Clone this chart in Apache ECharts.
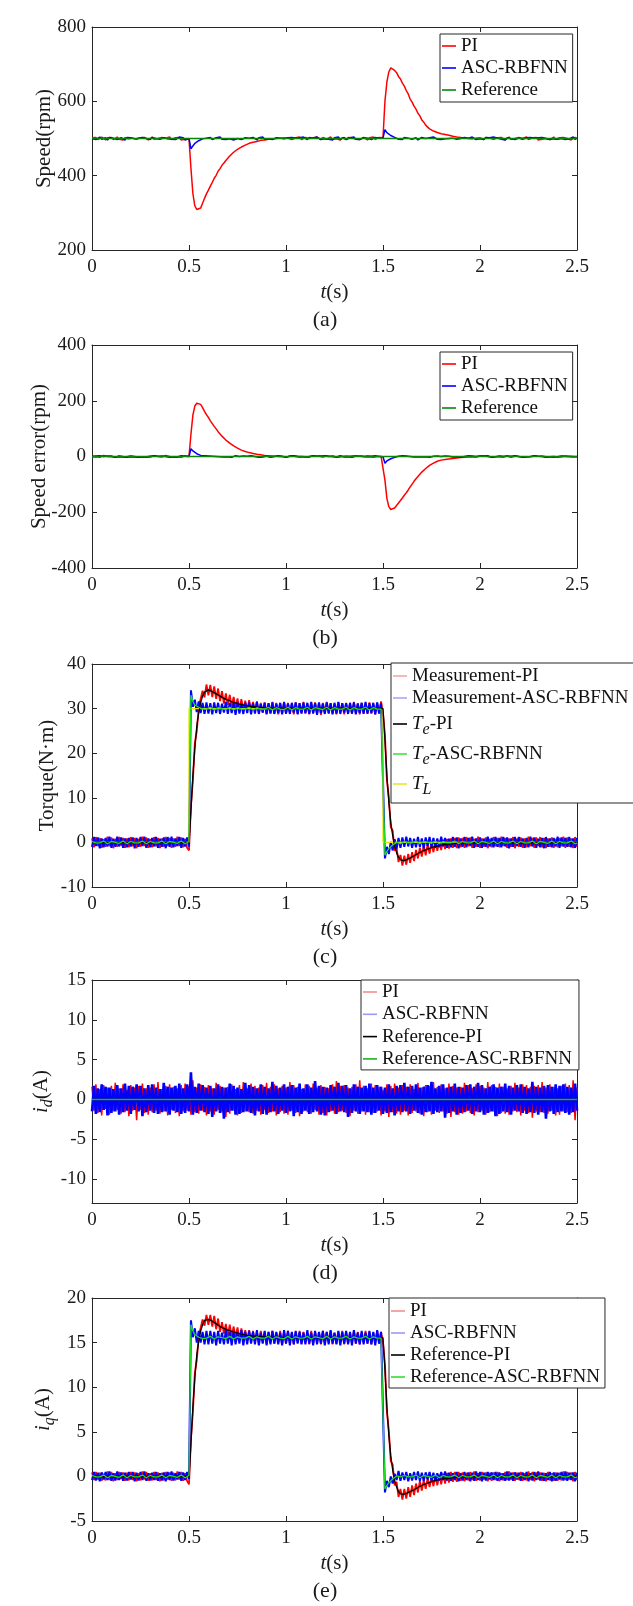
<!DOCTYPE html>
<html><head><meta charset="utf-8">
<script src="https://cdn.jsdelivr.net/npm/echarts@6/dist/echarts.min.js"></script>
<style>html,body{margin:0;padding:0;background:#fff}#c{width:633px;height:1606px}</style>
</head><body><div id="c"></div>
<script>
// ---------- axis ticks / labels ----------
const xTicks = [0, 0.5, 1, 1.5, 2, 2.5];
const captions = ['(a)', '(b)', '(c)', '(d)', '(e)'];
const idTicks = [-10, -5, 0, 5, 10, 15];
const sampleStep = 0.01; // uniform sampling of the measured traces

// ---------- (a) speed, rpm (one row = 0.1 s) ----------
const speedPI = [
502,498,503,497,501,504,499,496,502,500,
503,497,499,504,498,501,496,502,503,499,
497,501,504,498,500,502,497,503,499,496,
501,504,498,502,500,497,503,499,501,498,
504,497,500,502,499,503,496,501,498,502,
499,420,352,319,309,306,313,326,339,351,
361,372,382,393,401,412,419,428,434,441,
446,453,456,463,465,471,473,477,478,482,
483,487,486,490,489,492,492,495,494,496,
495,498,496,499,497,500,498,501,499,502,
498,501,503,497,500,502,499,504,497,501,
503,498,500,496,502,501,504,499,497,503,
500,498,502,504,497,501,499,503,496,502,
501,497,503,499,502,504,498,500,497,501,
503,499,496,502,500,504,498,501,503,499,
502,600,652,679,690,689,683,677,667,660,
649,641,629,620,606,598,587,579,568,561,
550,544,536,532,526,525,520,520,516,516,
513,514,511,512,509,509,506,507,504,505,
503,504,501,503,500,502,499,503,501,498,
502,500,497,503,499,501,504,498,500,502,
497,503,499,496,501,504,498,502,500,497,
503,499,501,498,504,497,500,502,499,503,
496,501,498,502,500,503,497,499,504,498,
501,502,497,503,499,500,502,496,501,503,
500];
const speedASC = [
499,503,497,501,504,498,500,502,496,503,
498,501,504,497,499,502,500,496,503,498,
502,497,499,504,501,496,503,498,500,502,
497,503,499,500,504,498,496,502,501,499,
503,498,501,497,500,504,499,502,496,501,
500,472,480,487,490,494,497,499,496,501,
498,503,497,500,502,499,504,498,501,497,
502,499,503,496,501,500,504,497,499,502,
498,501,497,503,500,496,502,499,504,498,
501,499,503,497,500,502,498,501,504,499,
497,502,500,503,498,501,496,502,499,504,
500,497,503,499,501,498,504,500,497,502,
499,503,498,501,496,502,500,504,498,501,
503,497,500,502,499,504,498,501,497,500,
502,498,501,504,497,500,503,499,501,498,
501,524,516,511,508,505,503,501,498,502,
497,503,499,501,504,498,500,502,496,501,
503,498,500,497,502,499,504,501,498,500,
497,502,499,503,500,496,501,504,498,502,
500,497,503,499,501,498,504,500,497,502,
499,501,497,503,500,502,498,504,499,501,
503,498,500,496,502,501,499,503,497,500,
501,504,498,500,502,497,503,499,501,496,
502,499,503,498,500,504,497,501,499,502,
498,501,500,503,497,502,499,501,504,498,
501];
const speedRefT = [0, 2.5];
const speedRefV = [500, 500];

// ---------- (b) speed error, rpm ----------
const errPI = [
-2,3,-1,2,-3,1,4,-2,0,3,
-1,2,-3,1,3,-2,0,4,-1,2,
3,-2,0,2,-3,1,-1,3,-2,1,
2,-1,3,-3,0,2,-2,1,4,-1,
0,3,-2,1,-1,2,-3,0,3,-2,
1,80,148,181,191,194,187,175,162,150,
140,128,118,108,99,89,81,73,66,59,
53,48,43,38,35,30,27,23,21,18,
17,14,13,11,10,8,7,6,6,4,
5,3,4,2,3,1,2,0,2,-1,
2,-1,1,3,-2,0,2,-3,1,-1,
3,-2,0,2,-1,1,-3,2,0,-2,
1,3,-1,0,2,-2,1,-3,2,0,
-1,2,-3,1,0,3,-2,1,-1,2,
0,-2,3,-1,2,-3,1,0,-2,1,
-1,-85,-150,-180,-190,-191,-185,-176,-167,-158,
-149,-139,-130,-120,-109,-99,-89,-80,-72,-64,
-56,-49,-43,-37,-32,-27,-24,-20,-17,-16,
-13,-13,-11,-10,-9,-8,-7,-6,-5,-4,
-4,-3,-3,-1,-2,0,-1,1,-2,0,
2,-1,3,-2,0,1,-3,2,-1,0,
3,-2,1,-1,2,0,-3,1,2,-2,
0,2,-1,3,-2,1,-1,0,2,-3,
1,-2,2,0,-1,3,-2,1,-3,2,
-1,1,3,-2,0,2,-1,3,-2,1,
0];
const errASC = [
1,-3,2,-1,3,-2,0,-3,2,-1,
2,-2,-3,1,-1,3,-2,0,-3,2,
-1,3,-2,0,-3,2,-1,1,-2,3,
-2,0,3,-3,1,-1,2,-2,0,3,
-3,1,-1,2,-2,0,3,-1,1,-2,
0,28,20,14,10,7,4,2,3,-1,
2,-2,1,-3,0,2,-1,3,-2,0,
-1,2,-3,1,3,-2,0,-1,2,-3,
1,-2,3,-1,0,2,-3,1,-2,0,
2,-1,-3,1,0,-2,3,-1,1,-2,
-3,0,2,-1,3,-2,1,-3,0,2,
-1,2,-2,0,3,-3,1,-1,2,0,
3,-1,0,-3,2,1,-2,0,3,-1,
-2,1,-1,3,-3,0,2,-2,1,-1,
0,-3,2,-1,1,-2,3,-1,0,2,
-1,-24,-16,-11,-8,-5,-3,-2,1,-2,
3,-1,2,-3,0,1,-2,3,-1,0,
-2,2,-1,3,-3,0,1,-2,2,-1,
0,-3,2,-1,1,3,-2,0,-1,2,
-3,1,0,-2,3,-1,2,-3,0,1,
2,-2,1,-1,3,0,-3,1,-1,2,
-1,3,-2,0,2,-3,1,-1,3,-2,
0,1,-3,2,-1,2,0,-2,3,-1,
1,-2,0,3,-3,1,-1,2,0,-2,
-2,3,-1,0,2,-3,1,-2,0,3,
-1];
const errRefT = [0, 2.5];
const errRefV = [0, 0];

// ---------- (c) torque, N·m ----------
const torqueMeasPI = [
0.9,-1.1,1.2,-0.8,1.0,-1.2,0.7,-1.0,1.3,-0.9,
1.1,-1.3,0.8,-1.0,1.2,-0.7,1.0,-1.2,0.9,-1.1,
1.2,-0.9,1.0,-1.3,0.8,-1.0,1.3,-0.8,1.1,-1.2,
0.8,-1.1,1.2,-0.9,1.0,-1.3,0.9,-1.0,1.2,-0.8,
1.0,-1.2,0.9,-1.0,1.3,-0.8,1.1,-1.1,0.8,-1.2,
-1.8,8.2,13.9,22.3,24.9,30.3,30.1,34.0,32.5,35.4,
33.0,35.3,32.6,35.0,32.2,34.5,31.7,33.9,31.1,33.4,
30.8,33.1,30.5,32.6,30.2,32.3,29.9,32.1,29.8,31.8,
29.6,31.9,29.5,31.5,29.2,31.6,29.0,31.3,29.1,31.4,
28.8,31.2,29.0,31.5,28.9,31.3,28.7,31.2,29.0,31.4,
28.8,31.3,29.1,31.0,28.7,31.4,28.9,31.2,29.0,31.5,
28.9,31.1,28.7,31.3,29.0,31.4,28.8,31.2,28.6,31.3,
29.0,31.5,28.8,31.2,28.9,31.0,28.7,31.4,29.1,31.2,
28.7,31.3,29.0,31.1,28.8,31.5,28.9,31.2,28.7,31.3,
29.0,31.2,28.8,31.4,28.9,31.1,28.7,31.3,29.0,31.6,
28.9,24.1,13.9,10.2,3.4,2.6,-1.9,-1.1,-4.4,-2.8,
-5.2,-3.0,-5.0,-2.6,-4.6,-2.2,-4.2,-1.7,-3.6,-1.2,
-3.2,-0.7,-2.9,-0.4,-2.5,-0.1,-2.2,0.2,-1.9,0.4,
-1.7,0.6,-1.5,0.8,-1.4,0.9,-1.2,1.0,-1.3,1.1,
-1.1,1.0,-1.2,1.2,-0.9,1.1,-1.2,0.8,-1.0,1.3,
-1.2,0.9,-1.0,1.1,-1.3,0.8,-1.1,1.2,-0.9,1.0,
-1.1,1.3,-0.8,1.0,-1.2,0.9,-1.0,1.2,-1.3,0.8,
-1.0,1.1,-1.2,0.9,-1.1,1.3,-0.9,1.0,-1.2,1.1,
-0.8,1.2,-1.1,1.0,-1.3,0.9,-1.0,1.1,-1.2,0.8,
-1.1,1.0,-0.9,1.3,-1.2,1.1,-1.0,0.9,-1.3,1.2,
-1.0];
const torqueMeasASC = [
-1.0,1.2,-0.8,1.1,-1.3,0.9,-1.1,1.0,-0.9,1.3,
-1.2,0.8,-1.0,1.3,-0.9,1.1,-1.2,0.9,-1.1,1.0,
-0.9,1.1,-1.3,1.0,-1.0,1.2,-0.8,1.3,-1.2,0.9,
-1.1,1.0,-0.9,1.2,-1.2,0.8,-1.0,1.1,-1.3,1.2,
-1.0,1.3,-1.1,0.9,-0.8,1.2,-1.2,1.0,-0.9,1.1,
-0.9,34.1,30.4,32.0,29.2,31.6,29.0,31.3,28.8,31.4,
28.9,31.2,28.7,31.4,29.0,31.3,28.8,31.1,29.1,31.5,
28.8,31.3,29.0,31.2,28.6,31.4,28.9,31.1,28.8,31.3,
29.0,31.4,28.7,31.2,28.9,31.5,28.8,31.0,29.1,31.3,
28.7,31.2,28.9,31.4,28.8,31.1,29.0,31.3,28.7,31.5,
28.9,31.1,28.8,31.3,29.1,31.4,28.7,31.2,28.9,31.3,
29.0,31.3,28.8,31.5,28.9,31.2,28.6,31.4,29.0,31.1,
28.8,31.4,29.0,31.2,28.7,31.3,28.9,31.5,28.8,31.2,
29.1,31.2,28.8,31.3,28.9,31.4,28.7,31.1,29.0,31.3,
28.8,31.5,28.9,31.2,29.0,31.3,28.7,31.4,28.9,31.2,
31.0,-3.6,-1.0,-2.6,0.1,-1.8,0.7,-1.4,1.0,-1.2,
1.1,-1.0,1.3,-0.9,1.0,-1.2,0.8,-1.1,1.2,-1.0,
0.9,-1.3,1.1,-0.8,1.2,-1.0,1.0,-1.2,0.9,-1.1,
1.3,-0.9,1.0,-1.2,0.8,-1.1,1.2,-1.0,1.1,-1.3,
0.9,-1.0,1.2,-1.1,1.0,-0.8,1.3,-1.2,0.9,-1.0,
1.1,-1.2,0.8,-1.0,1.3,-0.9,1.0,-1.1,1.2,-1.0,
1.0,-1.1,1.2,-0.9,1.1,-1.3,0.9,-1.0,1.2,-0.8,
1.2,-1.0,0.9,-1.2,1.0,-1.1,1.3,-0.9,1.1,-1.2,
0.8,-1.1,1.0,-1.3,1.2,-1.0,0.9,-1.1,1.0,-0.9,
1.3,-1.2,1.1,-0.9,1.0,-1.0,1.2,-1.1,0.9,-1.2,
1.0];
const teASC = [
0.2,0.3,-0.1,-0.3,-0.1,0.2,0.3,-0.1,-0.3,-0.1,
0.2,0.3,0.0,-0.3,-0.2,0.2,0.3,-0.1,-0.3,-0.1,
0.2,0.3,-0.1,-0.3,-0.1,0.2,0.3,0.0,-0.3,-0.2,
0.2,0.3,-0.1,-0.3,-0.1,0.2,0.3,-0.1,-0.3,-0.1,
0.2,0.3,0.0,-0.3,-0.2,0.2,0.3,-0.1,-0.3,-0.1,
0.2,33.0,31.6,30.8,30.4,30.3,30.3,29.9,29.7,29.9,
30.2,30.3,29.9,29.7,29.9,30.2,30.3,30.0,29.7,29.8,
30.2,30.3,29.9,29.7,29.9,30.2,30.3,29.9,29.7,29.9,
30.2,30.3,30.0,29.7,29.8,30.2,30.3,29.9,29.7,29.9,
30.2,30.3,29.9,29.7,29.9,30.2,30.3,29.9,29.7,29.8,
30.2,30.3,30.0,29.7,29.9,30.2,30.3,29.9,29.7,29.9,
30.2,30.3,29.9,29.7,29.9,30.2,30.3,30.0,29.7,29.8,
30.2,30.3,29.9,29.7,29.9,30.2,30.3,29.9,29.7,29.9,
30.2,30.3,30.0,29.7,29.8,30.2,30.3,29.9,29.7,29.9,
30.2,30.3,29.9,29.7,29.9,30.2,30.3,29.9,29.7,29.9,
30.2,-2.9,-2.0,-1.4,-1.0,-0.6,-0.4,0.0,-0.2,-0.3,
-0.1,0.2,0.3,-0.1,-0.3,-0.1,0.2,0.3,-0.1,-0.3,
-0.1,0.2,0.3,0.0,-0.3,-0.2,0.2,0.3,-0.1,-0.3,
-0.1,0.2,0.3,-0.1,-0.3,-0.1,0.2,0.3,0.0,-0.3,
-0.2,0.2,0.3,-0.1,-0.3,-0.1,0.2,0.3,-0.1,-0.3,
-0.1,0.2,0.3,0.0,-0.3,-0.2,0.2,0.3,-0.1,-0.3,
-0.1,0.2,0.3,-0.1,-0.3,-0.1,0.2,0.3,0.0,-0.3,
-0.2,0.2,0.3,-0.1,-0.3,-0.1,0.2,0.3,-0.1,-0.3,
-0.1,0.2,0.3,0.0,-0.3,-0.2,0.2,0.3,-0.1,-0.3,
-0.1,0.2,0.3,-0.1,-0.3,-0.1,0.2,0.3,0.0,-0.3,
-0.1];
const smoothT = [0,0.5,0.51,0.52,0.53,0.54,0.55,0.56,0.57,0.58,0.59,0.60,0.61,0.62,0.64,0.66,0.68,0.70,0.73,0.76,0.80,0.85,0.90,1.0,1.5,1.51,1.52,1.53,1.54,1.55,1.56,1.57,1.58,1.59,1.60,1.61,1.62,1.64,1.66,1.68,1.70,1.73,1.76,1.80,1.85,1.90,2.0,2.5];
const tePI = [0,0,7,15,21,26,29,31.3,32.8,33.7,34.1,34.2,34.0,33.8,33.3,32.8,32.3,31.9,31.4,31.0,30.6,30.3,30.1,30.0,30,23,15,9,4.5,1.5,-0.8,-2.3,-3.3,-3.9,-4.1,-4.1,-3.9,-3.5,-3.0,-2.5,-2.0,-1.5,-1.0,-0.6,-0.3,-0.1,0,0];
const loadT = [0, 0.5, 0.5, 1.5, 1.5, 2.5];
const loadV = [0, 0, 30, 30, 0, 0];

// ---------- (d) i_d, A ----------
const idPI = [
1.6,-1.4,1.9,-1.7,1.3,-2.0,1.8,-1.2,1.5,-1.9,
1.7,-1.5,2.1,-1.3,1.4,-1.8,1.9,-1.6,1.2,-2.1,
1.8,-1.4,1.5,-2.6,1.7,-1.3,2.0,-1.7,1.4,-1.9,
1.5,-1.6,1.9,-1.4,2.2,-1.8,1.3,-1.5,1.7,-2.0,
1.9,-1.3,1.6,-1.7,1.4,-2.1,1.8,-1.5,2.0,-1.4,
1.7,-1.9,2.4,-1.6,1.5,-1.8,1.9,-1.4,1.6,-2.0,
1.8,-1.5,1.4,-1.9,2.1,-1.3,1.7,-1.6,1.5,-2.2,
1.6,-1.8,1.9,-1.4,1.3,-2.0,1.8,-1.7,2.2,-1.5,
1.4,-1.6,2.0,-1.8,1.7,-1.4,1.5,-1.9,1.8,-1.3,
2.1,-1.7,1.6,-1.5,1.9,-2.0,1.4,-1.6,1.7,-1.8,
1.5,-1.9,2.2,-1.4,1.8,-1.7,1.6,-2.1,1.3,-1.5,
1.9,-1.6,1.7,-1.8,2.0,-1.3,1.5,-1.9,1.8,-1.7,
1.6,-2.0,1.4,-1.5,1.9,-1.8,2.3,-1.6,1.7,-1.4,
1.8,-1.7,1.5,-2.1,1.6,-1.4,1.9,-1.8,2.4,-1.5,
1.7,-1.9,1.4,-1.6,2.0,-1.7,1.8,-1.5,1.6,-2.0,
1.2,-1.5,1.9,-2.2,1.7,-1.6,2.0,-1.8,1.5,-1.9,
1.8,-1.4,1.6,-2.0,1.9,-1.7,1.3,-1.5,2.1,-1.8,
1.5,-2.1,1.8,-1.6,1.7,-1.9,2.2,-1.4,1.6,-1.7,
1.9,-1.5,1.4,-1.8,2.0,-2.2,1.7,-1.6,1.5,-1.9,
1.6,-1.8,2.1,-1.5,1.8,-1.7,1.4,-2.0,1.9,-1.6,
1.7,-1.4,1.5,-1.9,2.2,-1.6,1.8,-1.5,1.6,-2.1,
2.0,-1.7,1.6,-1.8,1.4,-1.9,1.7,-1.5,2.1,-1.6,
1.5,-2.0,1.9,-1.4,1.8,-1.7,1.6,-2.3,1.7,-1.5,
1.8,-1.6,2.2,-1.7,1.5,-1.8,1.9,-1.4,1.6,-2.0,
1.4,-1.9,1.7,-1.5,2.0,-1.6,1.8,-1.7,2.4,-2.6,
1.5];
const idASC = [
-1.5,1.7,-1.8,1.4,-1.6,1.9,-1.3,1.6,-2.0,1.5,
-1.7,1.3,-1.5,1.8,-1.9,1.4,-1.6,2.0,-1.4,1.7,
-1.8,1.6,-1.3,1.9,-1.5,1.7,-2.1,1.4,-1.6,1.8,
-1.4,1.9,-1.7,1.5,-1.8,1.3,-1.6,2.1,-1.5,1.6,
-1.9,1.5,-1.4,1.7,-1.6,2.0,-1.8,1.4,-1.7,1.9,
-1.5,3.4,-1.9,1.6,-1.7,2.0,-1.4,1.8,-1.6,1.5,
-1.8,1.7,-2.2,1.4,-1.5,1.9,-1.7,1.6,-2.4,1.5,
-1.6,2.0,-1.4,1.7,-1.9,1.5,-1.8,1.3,-1.6,2.1,
-1.5,1.8,-1.7,1.6,-2.0,1.4,-1.5,1.9,-1.8,1.6,
-1.9,1.4,-1.6,2.2,-1.5,1.7,-1.8,1.5,-1.4,1.9,
-1.7,1.6,-1.5,1.8,-2.1,1.5,-1.6,2.0,-1.8,1.4,
-1.4,1.9,-1.8,1.5,-1.6,2.3,-1.5,1.7,-1.9,1.6,
-2.0,1.5,-1.6,1.8,-1.4,1.6,-1.8,2.1,-1.5,1.7,
-1.6,1.8,-2.2,1.4,-1.7,1.9,-1.5,1.6,-1.8,1.5,
-1.5,1.7,-1.6,2.0,-1.9,1.5,-1.7,1.8,-1.4,1.6,
-1.8,1.5,-1.7,1.9,-1.6,1.4,-2.0,1.7,-1.5,1.8,
-1.6,2.1,-1.5,1.6,-1.8,1.7,-1.4,1.9,-1.7,1.5,
-1.9,1.6,-1.6,1.8,-1.5,2.2,-1.8,1.4,-1.6,1.7,
-1.5,1.9,-2.3,1.5,-1.7,1.6,-1.5,2.0,-1.9,1.6,
-1.7,1.5,-1.6,1.8,-1.4,1.9,-1.8,1.6,-1.5,2.1,
-1.6,1.8,-1.9,1.4,-1.7,1.6,-1.5,1.9,-2.1,1.5,
-1.8,1.6,-1.5,2.0,-1.6,1.7,-1.9,1.5,-1.4,1.8,
-1.5,1.9,-1.7,1.6,-1.8,1.4,-1.6,2.2,-1.7,1.6,
-1.9,1.5,-1.6,1.7,-2.4,1.8,-1.5,1.6,-1.8,1.9,
-1.6,1.7,-1.5,1.9,-1.7,1.6,-1.9,1.5,-1.6,2.0,
-1.4];
const idRefT = [0, 2.5];
const idRefV = [0, 0];

// ---------- (e) i_q, A ----------
const iqMeasPI = [
0.45,-0.4,0.5,-0.35,0.4,-0.5,0.3,-0.45,0.55,-0.4,
0.5,-0.55,0.35,-0.4,0.5,-0.3,0.45,-0.5,0.4,-0.45,
0.5,-0.4,0.45,-0.55,0.35,-0.45,0.55,-0.35,0.5,-0.5,
0.35,-0.45,0.5,-0.4,0.45,-0.55,0.4,-0.45,0.5,-0.35,
0.45,-0.5,0.4,-0.45,0.55,-0.35,0.5,-0.5,0.35,-0.5,
-0.9,4.2,7.2,11.6,13.0,15.7,15.7,17.6,16.9,18.1,
17.0,18.1,16.8,18.0,16.5,17.7,16.2,17.3,16.0,17.1,
15.8,17.0,15.7,16.8,15.6,16.7,15.4,16.6,15.5,16.4,
15.2,16.4,15.1,16.3,15.0,16.2,14.9,16.3,15.0,16.2,
14.9,16.2,15.0,16.3,14.9,16.1,15.0,16.3,14.8,16.2,
14.9,16.3,15.0,16.1,14.8,16.2,15.0,16.3,14.9,16.2,
15.0,16.1,14.8,16.3,14.9,16.2,15.0,16.1,14.8,16.3,
14.9,16.2,15.0,16.3,14.8,16.1,14.9,16.2,15.0,16.3,
14.8,16.2,14.9,16.1,15.0,16.3,14.9,16.2,14.8,16.1,
15.0,16.3,14.9,16.2,14.8,16.1,15.0,16.3,14.9,16.2,
15.0,12.6,7.2,5.2,1.7,1.3,-1.0,-0.6,-2.3,-1.4,
-2.6,-1.4,-2.5,-1.2,-2.3,-1.0,-2.1,-0.8,-1.8,-0.5,
-1.6,-0.4,-1.4,-0.2,-1.2,-0.1,-1.1,0.1,-1.0,0.2,
-0.9,0.3,-0.8,0.4,-0.7,0.5,-0.6,0.5,-0.6,0.5,
-0.5,0.45,-0.55,0.4,-0.45,0.5,-0.4,0.55,-0.5,0.35,
-0.45,0.5,-0.35,0.45,-0.55,0.4,-0.5,0.45,-0.4,0.5,
-0.55,0.35,-0.45,0.5,-0.4,0.55,-0.35,0.45,-0.5,0.4,
-0.4,0.5,-0.5,0.35,-0.45,0.55,-0.4,0.5,-0.55,0.45,
-0.35,0.45,-0.5,0.4,-0.55,0.5,-0.45,0.35,-0.5,0.45,
-0.5,0.4,-0.45,0.55,-0.4,0.5,-0.35,0.45,-0.55,0.5,
-0.4];
const iqMeasASC = [
-0.4,0.5,-0.45,0.4,-0.55,0.45,-0.35,0.5,-0.4,0.55,
-0.5,0.35,-0.45,0.55,-0.4,0.45,-0.5,0.4,-0.45,0.5,
-0.35,0.5,-0.55,0.4,-0.45,0.5,-0.4,0.55,-0.5,0.35,
-0.45,0.4,-0.4,0.5,-0.5,0.35,-0.45,0.45,-0.55,0.5,
-0.4,0.55,-0.45,0.35,-0.35,0.5,-0.5,0.45,-0.4,0.5,
-0.3,17.5,15.6,16.6,15.0,16.3,15.0,16.2,14.8,16.3,
14.8,16.3,14.9,16.2,14.7,16.3,14.9,16.1,14.8,16.4,
14.9,16.2,14.7,16.3,14.8,16.1,14.9,16.4,14.7,16.2,
14.8,16.3,14.9,16.2,14.8,16.4,14.7,16.1,14.9,16.3,
14.7,16.2,14.8,16.3,14.9,16.2,14.8,16.1,14.7,16.4,
14.9,16.3,14.7,16.2,14.8,16.3,14.9,16.2,14.8,16.1,
14.8,16.4,14.9,16.1,14.7,16.3,14.8,16.2,14.9,16.3,
14.7,16.2,14.8,16.4,14.9,16.1,14.8,16.3,14.7,16.2,
14.9,16.3,14.8,16.2,14.7,16.4,14.9,16.1,14.8,16.3,
14.8,16.1,14.9,16.3,14.8,16.2,14.7,16.4,14.9,16.2,
16.2,-1.8,-0.5,-1.2,0.0,-0.8,0.3,-0.4,0.6,-0.5,
0.45,-0.4,0.5,-0.55,0.35,-0.45,0.5,-0.4,0.55,-0.5,
0.4,-0.5,0.45,-0.35,0.5,-0.45,0.4,-0.55,0.35,-0.45,
0.5,-0.4,0.55,-0.45,0.4,-0.5,0.35,-0.4,0.5,-0.55,
0.35,-0.45,0.5,-0.4,0.45,-0.55,0.4,-0.5,0.55,-0.4,
0.5,-0.55,0.4,-0.45,0.5,-0.35,0.45,-0.4,0.5,-0.5,
0.45,-0.4,0.35,-0.5,0.55,-0.45,0.4,-0.5,0.45,-0.35,
0.4,-0.5,0.45,-0.4,0.5,-0.55,0.35,-0.45,0.5,-0.4,
0.55,-0.45,0.4,-0.5,0.35,-0.4,0.5,-0.55,0.45,-0.5,
0.4,-0.35,0.5,-0.45,0.55,-0.5,0.4,-0.4,0.45,-0.55,
0.4];
const iqRefASC = [
0.1,0.15,-0.05,-0.15,-0.05,0.1,0.15,-0.05,-0.15,-0.05,
0.1,0.15,0.0,-0.15,-0.1,0.1,0.15,-0.05,-0.15,-0.05,
0.1,0.15,-0.05,-0.15,-0.05,0.1,0.15,0.0,-0.15,-0.1,
0.1,0.15,-0.05,-0.15,-0.05,0.1,0.15,-0.05,-0.15,-0.05,
0.1,0.15,0.0,-0.15,-0.1,0.1,0.15,-0.05,-0.15,-0.05,
0.1,17.0,16.3,15.9,15.7,15.6,15.7,15.45,15.4,15.5,
15.65,15.7,15.5,15.4,15.5,15.65,15.7,15.55,15.4,15.45,
15.65,15.7,15.5,15.4,15.5,15.65,15.7,15.5,15.4,15.5,
15.65,15.7,15.55,15.4,15.45,15.65,15.7,15.5,15.4,15.5,
15.65,15.7,15.5,15.4,15.5,15.65,15.7,15.5,15.4,15.45,
15.65,15.7,15.55,15.4,15.5,15.65,15.7,15.5,15.4,15.5,
15.65,15.7,15.5,15.4,15.5,15.65,15.7,15.55,15.4,15.45,
15.65,15.7,15.5,15.4,15.5,15.65,15.7,15.5,15.4,15.5,
15.65,15.7,15.55,15.4,15.45,15.65,15.7,15.5,15.4,15.5,
15.65,15.7,15.5,15.4,15.5,15.65,15.7,15.5,15.4,15.5,
15.65,-1.4,-1.0,-0.7,-0.5,-0.3,-0.2,0.05,0.1,-0.05,
-0.05,0.1,0.15,-0.05,-0.15,-0.05,0.1,0.15,-0.05,-0.15,
-0.05,0.1,0.15,0.0,-0.15,-0.1,0.1,0.15,-0.05,-0.15,
-0.05,0.1,0.15,-0.05,-0.15,-0.05,0.1,0.15,0.0,-0.15,
-0.1,0.1,0.15,-0.05,-0.15,-0.05,0.1,0.15,-0.05,-0.15,
-0.05,0.1,0.15,0.0,-0.15,-0.1,0.1,0.15,-0.05,-0.15,
-0.05,0.1,0.15,-0.05,-0.15,-0.05,0.1,0.15,0.0,-0.15,
-0.1,0.1,0.15,-0.05,-0.15,-0.05,0.1,0.15,-0.05,-0.15,
-0.05,0.1,0.15,0.0,-0.15,-0.1,0.1,0.15,-0.05,-0.15,
-0.05,0.1,0.15,-0.05,-0.15,-0.05,0.1,0.15,0.0,-0.15,
-0.05];
const iqRefPI = [0,0,3.6,7.8,11.0,13.6,15.1,16.3,17.0,17.5,17.6,17.6,17.5,17.4,17.1,16.8,16.6,16.4,16.2,16.0,15.8,15.7,15.6,15.55,15.55,12.0,7.8,4.6,2.3,0.7,-0.5,-1.2,-1.7,-1.95,-2.0,-2.0,-1.9,-1.7,-1.5,-1.25,-1.0,-0.75,-0.5,-0.3,-0.15,-0.05,0,0];

// ---------- layout & helpers ----------
const F = '"Liberation Serif","Times New Roman",serif';
const AX = '#262626', TXT = '#1a1a1a';
const gridTops = [27, 345, 664, 980, 1298];
const GH = 223;
const U = arr => arr.map((v, i) => [Math.round(i * sampleStep * 100) / 100, v]);
const P = (ts, vs) => ts.map((t, i) => [t, vs[i]]);

const yDefs = [
  {min: 200, max: 800, interval: 200, name: 'Speed(rpm)', gap: 37},
  {min: -400, max: 400, interval: 200, name: 'Speed error(rpm)', gap: 42},
  {min: -10, max: 40, interval: 10, name: 'Torque(N·m)', gap: 34},
  {min: -13, max: 15, custom: idTicks, name: '{i|i}{s|d}(A)', gap: 40},
  {min: -5, max: 20, interval: 5, name: '{i|i}{s|q}(A)', gap: 38}
];
const nameRich = {
  i: {fontFamily: F, fontSize: 21, fontStyle: 'italic', color: TXT},
  s: {fontFamily: F, fontSize: 16, fontStyle: 'italic', color: TXT, lineHeight: 16, padding: [12, 0, 0, 0]}
};

const xAxis = [], yAxis = [];
for (let k = 0; k < 5; k++) {
  xAxis.push({gridIndex: k, type: 'value', position: 'bottom', min: 0, max: 2.5, interval: 0.5,
    axisLine: {onZero: false, lineStyle: {color: AX, width: 1}},
    axisTick: {inside: true, length: 5, lineStyle: {color: AX}},
    axisLabel: {margin: 8, fontFamily: F, fontSize: 19, color: TXT},
    splitLine: {show: false},
    name: '{i|t}(s)', nameLocation: 'middle', nameGap: 32, nameMoveOverlap: false,
    nameTextStyle: {fontFamily: F, fontSize: 21, color: TXT, rich: nameRich}});
}
for (let k = 0; k < 5; k++) {
  xAxis.push({gridIndex: k, type: 'value', position: 'top', min: 0, max: 2.5, interval: 0.5,
    axisLine: {onZero: false, lineStyle: {color: AX, width: 1}},
    axisTick: {inside: true, length: 5, lineStyle: {color: AX}},
    axisLabel: {show: false}, splitLine: {show: false}});
}
for (let k = 0; k < 5; k++) {
  const d = yDefs[k];
  yAxis.push({gridIndex: k, type: 'value', position: 'left', min: d.min, max: d.max, interval: d.interval,
    axisLine: {show: true, onZero: false, lineStyle: {color: AX, width: 1}},
    axisTick: {show: true, inside: true, length: 5, lineStyle: {color: AX}, customValues: d.custom},
    axisLabel: {margin: 6, fontFamily: F, fontSize: 19, color: TXT, customValues: d.custom},
    splitLine: {show: false},
    name: d.name, nameLocation: 'middle', nameRotate: 90, nameGap: d.gap, nameMoveOverlap: false,
    nameTextStyle: {fontFamily: F, fontSize: 21, color: TXT, rich: nameRich}});
}
for (let k = 0; k < 5; k++) {
  const d = yDefs[k];
  yAxis.push({gridIndex: k, type: 'value', position: 'right', min: d.min, max: d.max, interval: d.interval,
    axisLine: {show: true, onZero: false, lineStyle: {color: AX, width: 1}},
    axisTick: {show: true, inside: true, length: 5, lineStyle: {color: AX}, customValues: d.custom},
    axisLabel: {show: false, customValues: d.custom}, splitLine: {show: false}});
}

function line(name, k, data, color, width) {
  return {name, type: 'line', xAxisIndex: k, yAxisIndex: k, data, symbol: 'none', showSymbol: false,
    silent: true, animation: false, clip: true, lineStyle: {color, width}, itemStyle: {color},
    emphasis: {disabled: true}};
}
const RED = '#ff0000', BLUE = '#0000ff';
const series = [
  line('PI', 0, U(speedPI), RED, 1.5),
  line('ASC-RBFNN', 0, U(speedASC), BLUE, 1.5),
  line('Reference', 0, P(speedRefT, speedRefV), '#0b840b', 1.5),
  line('PI', 1, U(errPI), RED, 1.5),
  line('ASC-RBFNN', 1, U(errASC), BLUE, 1.5),
  line('Reference', 1, P(errRefT, errRefV), '#0b840b', 1.5),
  line('Measurement-PI', 2, U(torqueMeasPI), RED, 1.8),
  line('Measurement-ASC-RBFNN', 2, U(torqueMeasASC), BLUE, 2),
  line('T_L', 2, P(loadT, loadV), '#e6e600', 1.3),
  line('T_e-PI', 2, P(smoothT, tePI), '#000000', 1.3),
  line('T_e-ASC-RBFNN', 2, U(teASC), '#22dd22', 1.3),
  line('PI', 3, U(idPI), RED, 1.5),
  line('ASC-RBFNN', 3, U(idASC), BLUE, 2.6),
  line('Reference-PI', 3, P(idRefT, idRefV), '#000000', 1.4),
  line('Reference-ASC-RBFNN', 3, P(idRefT, idRefV), '#1fa84a', 1.4),
  line('PI', 4, U(iqMeasPI), RED, 1.8),
  line('ASC-RBFNN', 4, U(iqMeasASC), BLUE, 2),
  line('Reference-PI', 4, P(smoothT, iqRefPI), '#000000', 1.3),
  line('Reference-ASC-RBFNN', 4, U(iqRefASC), '#22dd22', 1.3)
];

const legRich = {
  t: {fontFamily: F, fontSize: 19, fontStyle: 'italic', lineHeight: 20, color: '#111'},
  s: {fontFamily: F, fontSize: 16, fontStyle: 'italic', lineHeight: 16, padding: [12, 0, 0, 0], color: '#111'},
  n: {fontFamily: F, fontSize: 19, lineHeight: 20, color: '#111'}
};
const legFmt = n => n === 'T_e-PI' ? '{t|T}{s|e}{n|-PI}'
  : n === 'T_e-ASC-RBFNN' ? '{t|T}{s|e}{n|-ASC-RBFNN}'
  : n === 'T_L' ? '{t|T}{s|L}' : n;
function legend(left, top, padding, gap, items) {
  return {left, top, orient: 'vertical', padding, itemGap: gap, itemWidth: 14, itemHeight: 1.6, itemTextGap: 3,
    icon: 'rect',
    backgroundColor: '#fff', borderColor: AX, borderWidth: 1, borderRadius: 0, selectedMode: false,
    textStyle: {fontFamily: F, fontSize: 19, color: '#111', lineHeight: 20, rich: legRich},
    formatter: legFmt,
    data: items.map(([name, color]) => ({name, icon: 'rect', itemStyle: {color, borderWidth: 0}}))};
}
const legend_ = [
  legend(440, 34, [2, 5, 2, 2], 2, [['PI', RED], ['ASC-RBFNN', BLUE], ['Reference', '#0b840b']]),
  legend(440, 352, [2, 5, 2, 2], 2, [['PI', RED], ['ASC-RBFNN', BLUE], ['Reference', '#0b840b']]),
  legend(391, 663, [3, 18, 5, 2], 2, [['Measurement-PI', '#f4a8a8'], ['Measurement-ASC-RBFNN', '#a8a8f4'],
    ['T_e-PI', '#000'], ['T_e-ASC-RBFNN', '#44dd44'], ['T_L', '#e6e630']]),
  legend(361, 980, [2, 7, 1, 2], 2.3, [['PI', '#f29090'], ['ASC-RBFNN', '#9a9af2'],
    ['Reference-PI', '#000'], ['Reference-ASC-RBFNN', '#1fb01f']]),
  legend(389, 1298, [3, 5, 1, 2], 2, [['PI', '#f29090'], ['ASC-RBFNN', '#9a9af2'],
    ['Reference-PI', '#000'], ['Reference-ASC-RBFNN', '#33dd33']])
];

const graphic = captions.map((c, k) => ({type: 'text', x: 325, y: gridTops[k] + GH + 70, silent: true,
  style: {text: c, fontFamily: F, fontSize: 22, fill: TXT, align: 'center', verticalAlign: 'middle'}}));

const chart = echarts.init(document.getElementById('c'), null, {renderer: 'canvas'});
chart.setOption({
  backgroundColor: '#ffffff',
  animation: false,
  textStyle: {fontFamily: F},
  grid: gridTops.map(t => ({left: 92, width: 485, top: t, height: GH})),
  xAxis, yAxis, series, legend: legend_, graphic
});
</script>
</body></html>
